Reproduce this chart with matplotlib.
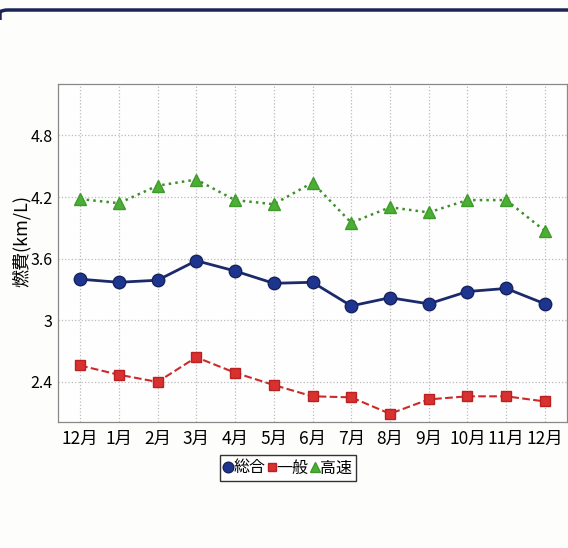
import matplotlib.pyplot as plt
from matplotlib.path import Path
from matplotlib.patches import PathPatch

plt.rcParams['font.family'] = ['Noto Sans CJK JP', 'DejaVu Sans']

# data
months = ['12月', '1月', '2月', '3月', '4月', '5月', '6月', '7月', '8月', '9月', '10月', '11月', '12月']
sougou = [3.40, 3.37, 3.39, 3.58, 3.48, 3.36, 3.37, 3.14, 3.22, 3.16, 3.28, 3.31, 3.16]
ippan = [2.56, 2.47, 2.40, 2.64, 2.49, 2.37, 2.26, 2.25, 2.09, 2.23, 2.26, 2.26, 2.21]
kousoku = [4.18, 4.14, 4.31, 4.37, 4.17, 4.13, 4.34, 3.95, 4.10, 4.05, 4.17, 4.17, 3.87]
yticks = [2.4, 3.0, 3.6, 4.2, 4.8]
ytick_labels = ['2.4', '3', '3.6', '4.2', '4.8']

narrow = ['Liberation Sans Narrow', 'Noto Sans CJK JP']

fig = plt.figure(figsize=(5.68, 5.48), dpi=100, facecolor='#fdfdfb')
ax = fig.add_axes([58/568, 1 - 422/548, (567-58)/568, (422-84)/548])
ax.set_facecolor('#fefefe')

x = list(range(len(months)))
ax.plot(x, kousoku, color='#3f8f2a', linestyle=':', linewidth=1.8,
        marker='^', markersize=9, markerfacecolor='#4caf35', markeredgecolor='#3f9a2c', label='高速', zorder=3)
ax.plot(x, sougou, color='#1b2a6b', linestyle='-', linewidth=2.0,
        marker='o', markersize=9, markerfacecolor='#1e3590', markeredgecolor='#16235c', label='総合', zorder=3)
ax.plot(x, ippan, color='#cc2a2a', linestyle='--', linewidth=1.5,
        marker='s', markersize=7.5, markerfacecolor='#d93030', markeredgecolor='#b82222', label='一般', zorder=3)

ax.set_xlim(-0.57, 12.57)
ax.set_ylim(2.01, 5.3)
ax.set_xticks(x)
ax.set_xticklabels(months, fontsize=12.5, family=narrow)
ax.set_yticks(yticks)
ax.set_yticklabels(ytick_labels, fontsize=11.5, family=narrow)
ax.tick_params(length=0)
ax.tick_params(axis='x', pad=6)
ax.tick_params(axis='y', pad=4)
ax.grid(True, color='#bbbbbb', linestyle=':', linewidth=0.9)
for s in ax.spines.values():
    s.set_color('#888888')
    s.set_linewidth(0.9)
ax.set_ylabel('燃費(km/L)', fontsize=13)
ax.yaxis.set_label_coords(-0.054, 0.535)

h, l = ax.get_legend_handles_labels()
order = [1, 2, 0]
leg = fig.legend([h[i] for i in order], [l[i] for i in order], loc='center',
                 bbox_to_anchor=(288/568, 1 - 468/548), ncol=3, fontsize=11.5,
                 handlelength=0.5, handletextpad=0.05, columnspacing=0.15,
                 borderpad=0.3, borderaxespad=0, markerscale=0.85,
                 fancybox=False, edgecolor='#333333', framealpha=1)
leg.get_frame().set_linewidth(1.0)
for line in leg.get_lines():
    line.set_linestyle('')

# dark frame line across the top of the panel, rounded at the left end
W, H = 568, 548
pts = [(0, H - 20), (0, H - 12), (2, H - 10), (8, H - 10), (W + 5, H - 10)]
codes = [Path.MOVETO, Path.LINETO, Path.CURVE3, Path.CURVE3, Path.LINETO]
pts = [(px / W, py / H) for px, py in pts]
fig.patches.append(PathPatch(Path(pts, codes), transform=fig.transFigure, fill=False,
                             edgecolor='#1c2456', linewidth=2.5, clip_on=False))

fig.savefig('out.png', dpi=100, facecolor=fig.get_facecolor())
